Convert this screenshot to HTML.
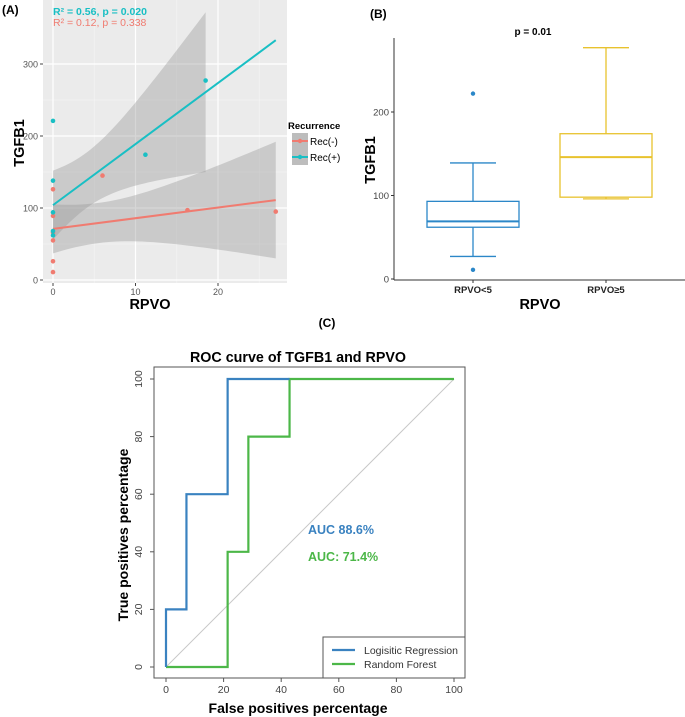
<!DOCTYPE html>
<html><head><meta charset="utf-8"><style>
body{margin:0;background:#fff;}
svg{display:block;font-family:"Liberation Sans",Arial,sans-serif;}
</style></head><body>
<svg id="s" width="685" height="717" viewBox="0 0 685 717" xmlns="http://www.w3.org/2000/svg">
<g id="A"></g>
<g id="B"></g>
<g id="C"></g>
</svg>
<script>
// Panel A data
const recPosX=[0,0,0,0,0,11.2,18.5];
const recPosY=[221,138,94,68,62,174,277];
const recNegX=[0,0,0,0,0,0,6,16.3,27];
const recNegY=[126,89,66,55,26,11,145,97,95];
const fitPos=[104,333]; // value at x=0 and x=27
const fitNeg=[71,111];
const xTicksA=[0,10,20];
const yTicksA=[0,100,200,300];
// Panel B data
const boxCats=["RPVO<5","RPVO≥5"];
const boxLow=[27,96];
const boxQ1=[62,98];
const boxMed=[69,146];
const boxQ3=[93,174];
const boxHigh=[139,277];
const outlierCat=[0,0];
const outlierVal=[222,11];
const yTicksB=[0,100,200];
// Panel C data
const lrFPR=[0,0,7.1,7.1,21.4,21.4,42.9];
const lrTPR=[0,20,20,60,60,100,100];
const rfFPR=[0,21.4,21.4,28.6,28.6,42.9,42.9,100];
const rfTPR=[0,0,40,40,80,80,100,100];
const ticksC=[0,20,40,60,80,100];

const NS="http://www.w3.org/2000/svg";
function mk(p,t,a,txt){const e=document.createElementNS(NS,t);for(const k in a)e.setAttribute(k,a[k]);if(txt!==undefined)e.textContent=txt;p.appendChild(e);return e;}

// ---------- Panel A ----------
const A=document.getElementById('A');
const xA=v=>53+8.25*v, yA=v=>280-0.72*v;
let e=mk(A,'rect',{x:43,y:0,width:244,height:283,fill:'#ebebeb'});


[50,150,250].forEach(v=>mk(A,'line',{x1:43,x2:287,y1:yA(v),y2:yA(v),stroke:'#f5f5f5','stroke-width':0.6}));
[5,15,25].forEach(v=>mk(A,'line',{y1:0,y2:283,x1:xA(v),x2:xA(v),stroke:'#f5f5f5','stroke-width':0.6}));
yTicksA.forEach(v=>{mk(A,'line',{x1:43,x2:287,y1:yA(v),y2:yA(v),stroke:'#fff','stroke-width':1.2});
 mk(A,'line',{x1:40,x2:43,y1:yA(v),y2:yA(v),stroke:'#444'});
 e=mk(A,'text',{x:38,y:yA(v)+3.5,'font-size':9,fill:'#555','text-anchor':'end'},String(v));
 
});
xTicksA.forEach(v=>{mk(A,'line',{y1:0,y2:283,x1:xA(v),x2:xA(v),stroke:'#fff','stroke-width':1.2});
 mk(A,'line',{y1:283,y2:286,x1:xA(v),x2:xA(v),stroke:'#444'});
 e=mk(A,'text',{x:xA(v),y:295,'font-size':9,fill:'#555','text-anchor':'middle'},String(v));
 
});
function band(fit,xmax,m,Aa,B,name){
 const sl=(fit[1]-fit[0])/27;let up=[],lo=[];
 for(let i=0;i<=40;i++){const x=xmax*i/40;const f=fit[0]+sl*x;const h=Math.sqrt(Aa+B*(x-m)*(x-m));up.push(xA(x)+','+yA(f+h));lo.unshift(xA(x)+','+yA(f-h));}
 const p=mk(A,'polygon',{points:up.concat(lo).join(' '),fill:'#999','fill-opacity':0.4});
 
 
}
band(fitNeg,27,5.5,778,12.5,'rec-neg-confidence-band');
band(fitPos,18.5,4,1478,51.6,'rec-pos-confidence-band');
e=mk(A,'line',{x1:xA(0),y1:yA(fitNeg[0]),x2:xA(27),y2:yA(fitNeg[1]),stroke:'#f07b70','stroke-width':2});


e=mk(A,'line',{x1:xA(0),y1:yA(fitPos[0]),x2:xA(27),y2:yA(fitPos[1]),stroke:'#19bfc4','stroke-width':2});


recNegX.forEach((x,i)=>{e=mk(A,'circle',{cx:xA(x),cy:yA(recNegY[i]),r:2.3,fill:'#f07b70'});
 
});
recPosX.forEach((x,i)=>{e=mk(A,'circle',{cx:xA(x),cy:yA(recPosY[i]),r:2.3,fill:'#19bfc4'});
 
});
e=mk(A,'text',{x:2,y:14,'font-size':12,'font-weight':'bold'},'(A)');


e=mk(A,'text',{x:53,y:15,'font-size':10.5,'font-weight':'bold',fill:'#19bfc4'},'R² = 0.56, p = 0.020');


e=mk(A,'text',{x:53,y:26,'font-size':10.5,fill:'#f07b70'},'R² = 0.12, p = 0.338');


e=mk(A,'text',{x:0,y:0,'font-size':14.5,'font-weight':'bold',transform:'translate(24,143) rotate(-90)','text-anchor':'middle'},'TGFB1');


e=mk(A,'text',{x:150,y:309,'font-size':14.5,'font-weight':'bold','text-anchor':'middle'},'RPVO');


e=mk(A,'text',{x:288,y:129,'font-size':9.5,'font-weight':'bold'},'Recurrence');


[['Rec(-)','#f07b70',141],['Rec(+)','#19bfc4',157]].forEach(([t,c,y])=>{
 mk(A,'rect',{x:292,y:y-8,width:16,height:16,fill:'#bdbdbd'});
 mk(A,'line',{x1:292,x2:308,y1:y,y2:y,stroke:c,'stroke-width':2});
 mk(A,'circle',{cx:300,cy:y,r:2.2,fill:c});
 e=mk(A,'text',{x:310,y:y+4,'font-size':10},t);
 
 
});

// ---------- Panel B ----------
const Bg=document.getElementById('B');
const yB=v=>279-0.835*v;const xB=i=>473+133*i;const cols=['#2b87c8','#e8c22e'];
mk(Bg,'line',{x1:394,x2:394,y1:38,y2:280,stroke:'#333'});
mk(Bg,'line',{x1:394,x2:685,y1:280,y2:280,stroke:'#333'});
yTicksB.forEach(v=>{mk(Bg,'line',{x1:391,x2:394,y1:yB(v),y2:yB(v),stroke:'#333'});
 e=mk(Bg,'text',{x:389,y:yB(v)+3.5,'font-size':9.5,fill:'#444','text-anchor':'end'},String(v));
 
});
boxCats.forEach((c,i)=>{
 const x=xB(i),col=cols[i];
 mk(Bg,'line',{x1:x,x2:x,y1:yB(boxQ3[i]),y2:yB(boxHigh[i]),stroke:col,'stroke-width':1.3});
 mk(Bg,'line',{x1:x,x2:x,y1:yB(boxQ1[i]),y2:yB(boxLow[i]),stroke:col,'stroke-width':1.3});
 mk(Bg,'line',{x1:x-23,x2:x+23,y1:yB(boxHigh[i]),y2:yB(boxHigh[i]),stroke:col,'stroke-width':1.3});
 mk(Bg,'line',{x1:x-23,x2:x+23,y1:yB(boxLow[i]),y2:yB(boxLow[i]),stroke:col,'stroke-width':1.3});
 e=mk(Bg,'rect',{x:x-46,y:yB(boxQ3[i]),width:92,height:yB(boxQ1[i])-yB(boxQ3[i]),fill:'#fff',stroke:col,'stroke-width':1.3});
 
 
 mk(Bg,'line',{x1:x-46,x2:x+46,y1:yB(boxMed[i]),y2:yB(boxMed[i]),stroke:col,'stroke-width':2});
 mk(Bg,'line',{x1:x,x2:x,y1:280,y2:283,stroke:'#333'});
 e=mk(Bg,'text',{x:x,y:293,'font-size':9.5,'font-weight':'bold',fill:'#222','text-anchor':'middle'},c);
 
 
});
outlierCat.forEach((c,i)=>{e=mk(Bg,'circle',{cx:xB(c),cy:yB(outlierVal[i]),r:2.2,fill:cols[c]});
 
});
e=mk(Bg,'text',{x:370,y:18,'font-size':12,'font-weight':'bold'},'(B)');


e=mk(Bg,'text',{x:533,y:35,'font-size':10,'font-weight':'bold','text-anchor':'middle'},'p = 0.01');


e=mk(Bg,'text',{x:0,y:0,'font-size':14.5,'font-weight':'bold',transform:'translate(375,160) rotate(-90)','text-anchor':'middle'},'TGFB1');


e=mk(Bg,'text',{x:540,y:309,'font-size':14.5,'font-weight':'bold','text-anchor':'middle'},'RPVO');



// ---------- Panel C ----------
const C=document.getElementById('C');
const xC=v=>166+2.88*v, yC=v=>667-2.88*v;
e=mk(C,'text',{x:327,y:327,'font-size':12,'font-weight':'bold','text-anchor':'middle'},'(C)');


e=mk(C,'text',{x:298,y:362,'font-size':14.3,'font-weight':'bold','text-anchor':'middle'},'ROC curve of TGFB1 and RPVO');


mk(C,'rect',{x:154,y:367,width:311,height:311,fill:'none',stroke:'#555','stroke-width':1});
mk(C,'line',{x1:xC(0),y1:yC(0),x2:xC(100),y2:yC(100),stroke:'#c8c8c8','stroke-width':1});
ticksC.forEach(v=>{
 mk(C,'line',{x1:xC(v),x2:xC(v),y1:678,y2:682,stroke:'#555'});
 e=mk(C,'text',{x:xC(v),y:693,'font-size':10.5,fill:'#444','text-anchor':'middle'},String(v));
 
 
 mk(C,'line',{x1:150,x2:154,y1:yC(v),y2:yC(v),stroke:'#555'});
 e=mk(C,'text',{x:0,y:0,'font-size':10.5,fill:'#444','text-anchor':'middle',transform:`translate(142,${yC(v)}) rotate(-90)`},String(v));
 
 
});
function path(xs,ys,col,name){const d=xs.map((x,i)=>(i?'L':'M')+xC(x)+','+yC(ys[i])).join(' ');
 const p=mk(C,'path',{d:d,fill:'none',stroke:col,'stroke-width':2.2});
 
 }
path(rfFPR,rfTPR,'#4cb748','random-forest-curve');
path(lrFPR,lrTPR,'#3a82c0','logistic-regression-curve');
e=mk(C,'text',{x:308,y:534,'font-size':12.5,'font-weight':'bold',fill:'#3a82c0'},'AUC 88.6%');


e=mk(C,'text',{x:308,y:561,'font-size':12.5,'font-weight':'bold',fill:'#4cb748'},'AUC: 71.4%');


e=mk(C,'rect',{x:323,y:637,width:142,height:41,fill:'#fff',stroke:'#555'});


[['Logisitic Regression','#3a82c0',651],['Random Forest','#4cb748',665]].forEach(([t,c,y])=>{
 mk(C,'line',{x1:332,x2:355,y1:y-1,y2:y-1,stroke:c,'stroke-width':2.2});
 e=mk(C,'text',{x:364,y:y+3,'font-size':10.5,fill:'#333'},t);
 
 
});
e=mk(C,'text',{x:0,y:0,'font-size':14,'font-weight':'bold','text-anchor':'middle',transform:'translate(128,535) rotate(-90)'},'True positives percentage');


e=mk(C,'text',{x:298,y:713,'font-size':14,'font-weight':'bold','text-anchor':'middle'},'False positives percentage');


</script>
</body></html>
